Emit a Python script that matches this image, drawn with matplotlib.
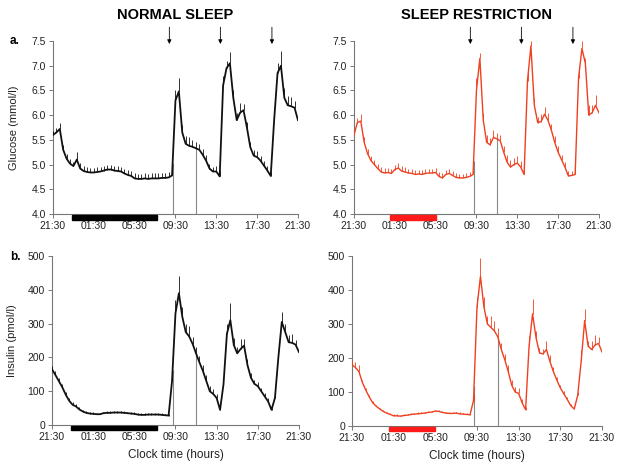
import numpy as np
import matplotlib
matplotlib.use("Agg")
import matplotlib.pyplot as plt
from matplotlib.patches import Rectangle
import matplotlib.transforms as mtransforms

plt.rcParams['font.family'] = ['Liberation Sans', 'DejaVu Sans']

# %% data -- samples every 20 min, hours since 21:30
hours = np.linspace(0, 24, 73)
tick_pos = [0, 4, 8, 12, 16, 20, 24]
tick_labels = ['21:30', '01:30', '05:30', '09:30', '13:30', '17:30', '21:30']

glucose_normal = [
    5.60, 5.65, 5.72, 5.30, 5.12, 5.02, 4.97, 5.10, 4.92, 4.87, 4.85, 4.84,
    4.84, 4.85, 4.86, 4.88, 4.90, 4.90, 4.88, 4.87, 4.86, 4.82, 4.79, 4.77,
    4.72, 4.71, 4.71, 4.72, 4.71, 4.72, 4.72, 4.72, 4.73, 4.73, 4.74, 4.78,
    6.30, 6.48, 5.65, 5.42, 5.38, 5.36, 5.33, 5.30, 5.20, 5.08, 4.92, 4.86,
    4.86, 4.76, 6.60, 6.95, 7.05, 6.35, 5.90, 6.05, 6.10, 5.75, 5.35, 5.18,
    5.15, 5.08, 4.98, 4.88, 4.77, 5.90, 6.85, 7.00, 6.35, 6.20, 6.18, 6.15,
    5.90]
glucose_normal_err = [
    0.08, 0.10, 0.13, 0.10, 0.10, 0.09, 0.09, 0.16, 0.12, 0.10, 0.10, 0.10,
    0.10, 0.10, 0.10, 0.10, 0.10, 0.10, 0.10, 0.10, 0.10, 0.10, 0.10, 0.10,
    0.10, 0.10, 0.10, 0.10, 0.10, 0.10, 0.10, 0.10, 0.10, 0.10, 0.10, 0.08,
    0.20, 0.28, 0.16, 0.15, 0.17, 0.14, 0.12, 0.12, 0.11, 0.12, 0.10, 0.10,
    0.12, 0.10, 0.20, 0.15, 0.22, 0.15, 0.15, 0.20, 0.12, 0.12, 0.10, 0.12,
    0.12, 0.10, 0.10, 0.10, 0.08, 0.15, 0.20, 0.30, 0.20, 0.18, 0.18, 0.14,
    0.10]

glucose_restr = [
    5.60, 5.85, 5.88, 5.45, 5.22, 5.08, 5.00, 4.92, 4.85, 4.83, 4.84, 4.82,
    4.90, 4.93, 4.87, 4.85, 4.83, 4.82, 4.80, 4.81, 4.80, 4.82, 4.83, 4.83,
    4.84, 4.76, 4.73, 4.80, 4.82, 4.78, 4.74, 4.73, 4.73, 4.74, 4.76, 4.80,
    6.50, 7.15, 5.90, 5.45, 5.40, 5.55, 5.52, 5.48, 5.25, 5.05, 4.95, 5.00,
    5.03, 4.95, 4.80, 6.70, 7.40, 6.20, 5.85, 5.87, 6.02, 5.90, 5.70, 5.45,
    5.25, 5.10, 4.95, 4.77, 4.78, 4.80, 6.75, 7.35, 7.05, 6.00, 6.05, 6.20,
    6.05]
glucose_restr_err = [
    0.08, 0.10, 0.15, 0.10, 0.10, 0.10, 0.10, 0.10, 0.10, 0.10, 0.10, 0.10,
    0.10, 0.10, 0.10, 0.10, 0.09, 0.09, 0.09, 0.09, 0.09, 0.09, 0.09, 0.09,
    0.09, 0.09, 0.09, 0.09, 0.09, 0.09, 0.08, 0.08, 0.08, 0.08, 0.08, 0.08,
    0.25, 0.10, 0.15, 0.14, 0.14, 0.15, 0.12, 0.12, 0.12, 0.14, 0.15, 0.14,
    0.14, 0.12, 0.10, 0.15, 0.10, 0.15, 0.12, 0.15, 0.15, 0.14, 0.12, 0.12,
    0.12, 0.10, 0.10, 0.09, 0.09, 0.10, 0.15, 0.15, 0.10, 0.20, 0.15, 0.20,
    0.10]

insulin_normal = [
    165, 148, 130, 112, 90, 72, 60, 55, 46, 40, 36, 34,
    33, 32, 32, 35, 36, 36, 37, 37, 37, 36, 35, 34,
    33, 31, 30, 30, 31, 31, 31, 31, 30, 29, 28, 130,
    330, 390, 320, 275, 262, 240, 212, 185, 160, 130, 100, 92,
    80, 45, 120, 270, 310, 237, 212, 225, 235, 177, 140, 122,
    115, 100, 85, 70, 45, 80, 200, 305, 275, 245, 243, 238,
    216]
insulin_normal_err = [
    10, 12, 10, 8, 8, 7, 7, 6, 6, 5, 5, 5,
    5, 5, 5, 5, 5, 5, 5, 5, 5, 5, 5, 5,
    5, 5, 5, 5, 5, 5, 5, 5, 5, 5, 5, 20,
    40, 50, 30, 25, 30, 20, 18, 18, 18, 18, 14, 14,
    12, 8, 20, 30, 50, 20, 20, 30, 20, 18, 14, 12,
    12, 10, 10, 10, 6, 10, 20, 30, 25, 20, 25, 15,
    10]

insulin_restr = [
    180, 172, 160, 128, 105, 85, 68, 58, 50, 43, 38, 34,
    30, 30, 29, 31, 32, 34, 35, 36, 37, 38, 40, 41,
    44, 43, 40, 38, 37, 37, 38, 36, 35, 34, 33, 75,
    350, 440, 350, 300, 290, 280, 262, 225, 195, 160, 120, 100,
    96, 68, 48, 235, 330, 260, 215, 212, 225, 190, 160, 135,
    112, 95, 78, 60, 50, 90, 190, 310, 235, 225, 238, 243,
    218]
insulin_restr_err = [
    15, 15, 20, 8, 7, 6, 5, 5, 4, 4, 4, 4,
    4, 4, 4, 4, 4, 4, 4, 4, 4, 4, 4, 4,
    4, 4, 4, 4, 4, 4, 4, 4, 4, 4, 4, 20,
    30, 55, 30, 25, 35, 30, 25, 20, 18, 18, 14, 14,
    15, 10, 8, 30, 45, 20, 15, 15, 25, 18, 14, 10,
    10, 8, 8, 6, 5, 10, 35, 35, 15, 25, 30, 20,
    15]

meal_times = [11.4, 16.4, 21.45]
sample_lines = [11.72, 14.0]
sleep_normal = (1.85, 10.2)
sleep_restr = (3.55, 8.0)

BLACK = '#111111'
RED = '#f0401f'


# %%
def draw_panel(ax, vals, err, color, lw, ylim, yticks, fmt, sleep, bar_color):
    vals = np.array(vals, dtype=float)
    err = np.array(err, dtype=float)
    ax.errorbar(hours, vals, yerr=[np.zeros_like(err), err], color=color,
                lw=lw, elinewidth=0.6, capsize=0, zorder=3)
    for t in sample_lines:
        ax.vlines(t, ylim[0], np.interp(t, hours, vals), color='#888888',
                  lw=0.8, zorder=2)
    ax.set_xlim(0, 24)
    ax.set_ylim(*ylim)
    ax.set_xticks(tick_pos)
    ax.set_xticklabels(tick_labels)
    ax.set_yticks(yticks)
    ax.set_yticklabels([fmt.format(v) for v in yticks])
    for s in ['top', 'right']:
        ax.spines[s].set_visible(False)
    for s in ['left', 'bottom']:
        ax.spines[s].set_color('#777777')
        ax.spines[s].set_linewidth(0.8)
    ax.tick_params(direction='out', length=3, width=0.7, color='#777777',
                   labelsize=7.5, labelcolor='#222222', pad=2)
    trans = mtransforms.blended_transform_factory(ax.transData, ax.transAxes)
    ax.add_patch(Rectangle((sleep[0], -0.032), sleep[1] - sleep[0], 0.029,
                           transform=trans, color=bar_color, clip_on=False,
                           zorder=4))


fig = plt.figure(figsize=(6.21, 4.70), dpi=100)
ax_gn = fig.add_axes([0.0853, 0.5447, 0.3945, 0.368])
ax_gr = fig.add_axes([0.570, 0.5447, 0.3945, 0.368])
ax_in = fig.add_axes([0.0837, 0.0957, 0.3977, 0.3596])
ax_ir = fig.add_axes([0.5668, 0.0936, 0.4026, 0.3617])

g_ticks = [4.0, 4.5, 5.0, 5.5, 6.0, 6.5, 7.0, 7.5]
i_ticks = [0, 100, 200, 300, 400, 500]

draw_panel(ax_gn, glucose_normal, glucose_normal_err, BLACK, 1.3, (4.0, 7.5),
           g_ticks, '{:.1f}', sleep_normal, 'black')
draw_panel(ax_gr, glucose_restr, glucose_restr_err, RED, 1.0, (4.0, 7.5),
           g_ticks, '{:.1f}', sleep_restr, '#ff1a1a')
draw_panel(ax_in, insulin_normal, insulin_normal_err, BLACK, 1.3, (0, 500),
           i_ticks, '{:d}', sleep_normal, 'black')
draw_panel(ax_ir, insulin_restr, insulin_restr_err, RED, 1.0, (0, 500),
           i_ticks, '{:d}', sleep_restr, '#ff1a1a')

# meal arrows
for ax in [ax_gn, ax_gr]:
    for t in meal_times:
        ax.annotate('', xy=(t, 7.44), xytext=(t, 7.78),
                    arrowprops=dict(arrowstyle='-|>', color='black', lw=0.6,
                                    mutation_scale=6, shrinkA=0, shrinkB=0),
                    annotation_clip=False)

ax_gn.set_ylabel('Glucose (mmol/l)', fontsize=8, color='#222222', va='center')
ax_gn.yaxis.set_label_coords(-0.16, 0.5)
ax_in.set_ylabel('Insulin (pmol/l)', fontsize=8, color='#222222', va='center')
ax_in.yaxis.set_label_coords(-0.16, 0.5)
for ax in [ax_in, ax_ir]:
    ax.set_xlabel('Clock time (hours)', fontsize=8.5, color='#222222')
    ax.xaxis.set_label_coords(0.5, -0.14)

ax_gn.text(0.5, 1.15, 'NORMAL SLEEP', transform=ax_gn.transAxes, ha='center',
           va='center', fontsize=10.5, fontweight='bold')
ax_gr.text(0.5, 1.15, 'SLEEP RESTRICTION', transform=ax_gr.transAxes,
           ha='center', va='center', fontsize=10.5, fontweight='bold')

fig.text(10 / 621, 1 - 41 / 470, 'a.', fontsize=8.5, fontweight='bold',
         va='center')
fig.text(10 / 621, 1 - 257 / 470, 'b.', fontsize=8.5, fontweight='bold',
         va='center')

fig.savefig('out.png', dpi=100)
